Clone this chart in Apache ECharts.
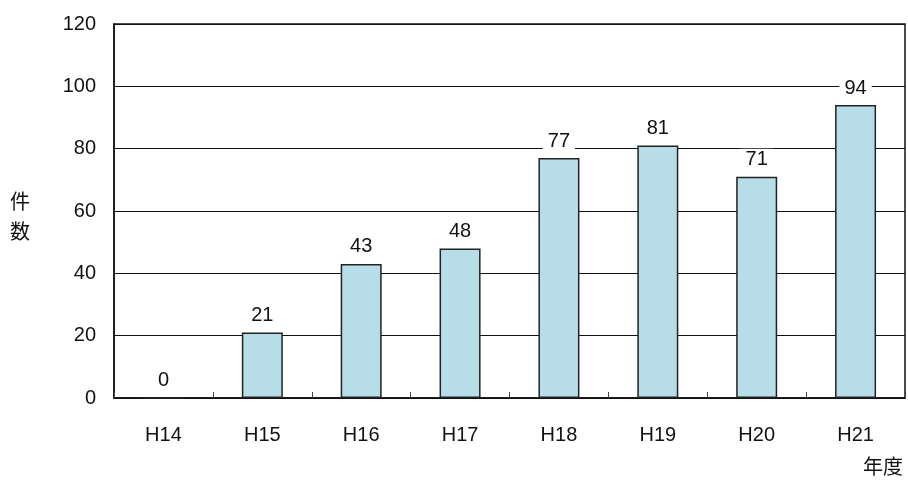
<!DOCTYPE html>
<html>
<head>
<meta charset="utf-8">
<script src="https://cdn.jsdelivr.net/npm/echarts@6/dist/echarts.min.js"></script>
<style>
  html, body { margin: 0; padding: 0; background: #fff; }
  #chart { width: 908px; height: 484px; }
</style>
</head>
<body>
<div id="chart"></div>
<script>
const years = ["H14", "H15", "H16", "H17", "H18", "H19", "H20", "H21"];
const counts = [0, 21, 43, 48, 77, 81, 71, 94];

const FONT = "'Liberation Sans', Arial, 'Noto Sans CJK JP', sans-serif";

const chart = echarts.init(document.getElementById("chart"));

const option = {
  animation: false,
  textStyle: { fontFamily: FONT },
  grid: { left: 114, right: 3, top: 24, bottom: 86, show: true, borderColor: "#111", borderWidth: 1.5 },
  xAxis: {
    type: "category",
    data: years,
    axisLine: { lineStyle: { color: "#111", width: 1.5 } },
    axisTick: { show: true, inside: true, length: 6, lineStyle: { color: "#444" } },
    axisLabel: { color: "#111", fontSize: 20, margin: 27 },
  },
  yAxis: {
    type: "value",
    min: 0,
    max: 120,
    interval: 20,
    axisLine: { show: true, lineStyle: { color: "#111", width: 1.5 } },
    axisTick: { show: false },
    axisLabel: { color: "#111", fontSize: 20, margin: 18 },
    splitLine: { lineStyle: { color: "#111", width: 1.2 } },
  },
  graphic: [
    {
      type: "text",
      left: 10,
      top: 186,
      style: { text: "件\n数", fontSize: 20, lineHeight: 30, fill: "#111", fontFamily: "'Noto Sans CJK JP', sans-serif" },
    },
    {
      type: "text",
      left: 863,
      top: 456,
      style: { text: "年度", fontSize: 20, fill: "#111", fontFamily: "'Noto Sans CJK JP', sans-serif" },
    },
  ],
  series: [
    {
      type: "bar",
      data: counts,
      barWidth: 41,
      itemStyle: { color: "#b7dde8", borderColor: "#222", borderWidth: 1.5 },
      label: {
        show: true,
        position: "top",
        distance: 7,
        color: "#111",
        fontSize: 20,
        backgroundColor: "#fff",
        padding: [1, 5, 0, 5],
      },
    },
  ],
};

chart.setOption(option);
</script>
</body>
</html>
